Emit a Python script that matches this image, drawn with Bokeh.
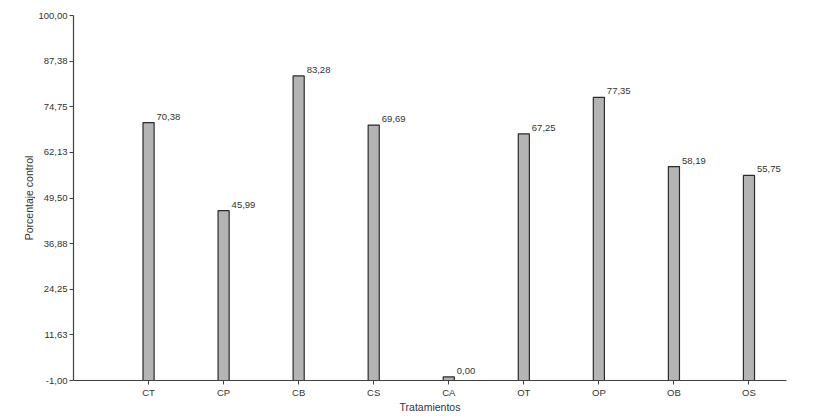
from bokeh.plotting import figure
from bokeh.models import FixedTicker, ColumnDataSource
from bokeh.embed import file_html
from bokeh.resources import INLINE
from bokeh.core.properties import value

categories = ["CT", "CP", "CB", "CS", "CA", "OT", "OP", "OB", "OS"]
values = [70.38, 45.99, 83.28, 69.69, 0.00, 67.25, 77.35, 58.19, 55.75]
y_ticks = [-1.00, 11.63, 24.25, 36.88, 49.50, 62.13, 74.75, 87.38, 100.00]
y_tick_labels = ["-1,00", "11,63", "24,25", "36,88", "49,50", "62,13", "74,75", "87,38", "100,00"]

x_pos = list(range(1, len(categories) + 1))
labels = [f"{v:.2f}".replace(".", ",") for v in values]

src = ColumnDataSource(dict(x=x_pos, top=values, label=labels))

p = figure(width=808, height=417, output_backend="svg", toolbar_location=None,
           x_range=(0, 9.5), y_range=(-1, 100),
           min_border_left=73, min_border_right=22, min_border_top=15, min_border_bottom=37)

p.vbar(x="x", top="top", bottom=-1, width=0.148, source=src,
       fill_color="#b4b4b4", line_color="#2b2b2b", line_width=1.2)

p.text(x="x", y="top", text="label", source=src, x_offset=8, y_offset=-3,
       text_align="left", text_baseline="bottom", text_font=value("Liberation Sans"),
       text_font_size="9.5px", text_color="#333333")

p.xgrid.visible = False
p.ygrid.visible = False
p.outline_line_color = None
p.background_fill_color = "white"
p.border_fill_color = "white"

p.xaxis.ticker = FixedTicker(ticks=x_pos)
p.xaxis.major_label_overrides = {x: c for x, c in zip(x_pos, categories)}
p.yaxis.ticker = FixedTicker(ticks=y_ticks)
p.yaxis.major_label_overrides = {t: l for t, l in zip(y_ticks, y_tick_labels)}

for ax in (p.xaxis, p.yaxis):
    ax.axis_line_color = "#404040"
    ax.axis_line_width = 1.2
    ax.major_tick_line_color = "#404040"
    ax.minor_tick_line_color = None
    ax.major_tick_in = 0
    ax.major_tick_out = 4
    ax.major_label_text_font = "Liberation Sans"
    ax.major_label_text_font_size = "9.5px"
    ax.major_label_text_color = "#333333"
    ax.axis_label_text_font = "Liberation Sans"
    ax.axis_label_text_font_size = "10.5px"
    ax.axis_label_text_font_style = "normal"
    ax.axis_label_text_color = "#333333"

p.xaxis.axis_label = "Tratamientos"
p.yaxis.axis_label = "Porcentaje control"
p.xaxis.major_label_standoff = 2
p.yaxis.major_label_standoff = 2
p.xaxis.axis_label_standoff = 0
p.yaxis.axis_label_standoff = 0

open("out.html", "w").write(file_html(p, INLINE))
